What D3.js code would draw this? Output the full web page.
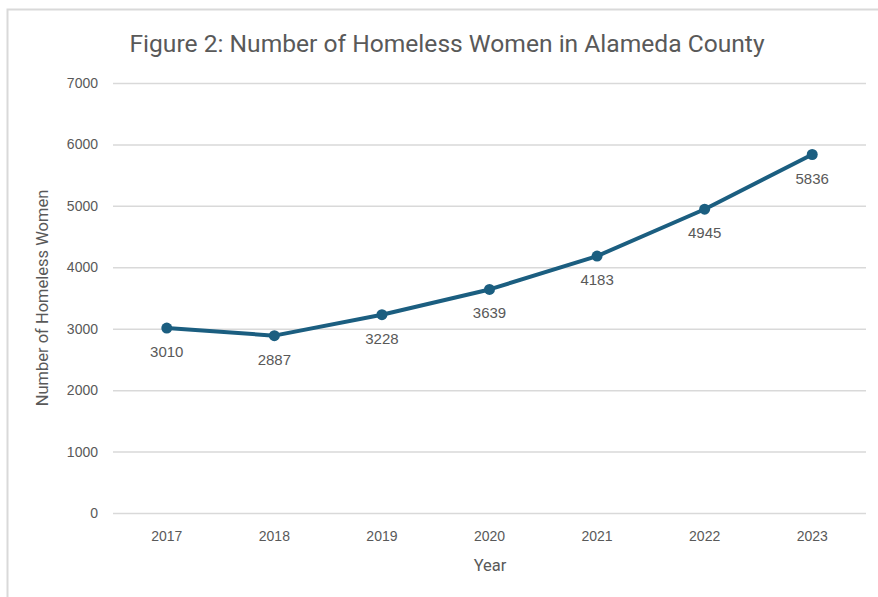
<!DOCTYPE html>
<html>
<head>
<meta charset="utf-8">
<script src="https://cdn.jsdelivr.net/npm/d3@7"></script>
<style>
  body { margin: 0; background: #fff; }
  svg text { font-family: "Liberation Sans", Arial, sans-serif; fill: #595959; }
  .tick text { font-size: 14px; }
  .title { font-size: 24.6px; font-family: Roboto, sans-serif; }
  .axisTitle { font-size: 16.5px; font-family: Roboto, sans-serif; }
  .dataLabel { font-size: 15px; }
</style>
</head>
<body>
<div class="fig2_plot"></div>
<script>
// data
var years = ["2017", "2018", "2019", "2020", "2021", "2022", "2023"];
var women = [3010, 2887, 3228, 3639, 4183, 4945, 5836];
var yTicks = [0, 1000, 2000, 3000, 4000, 5000, 6000, 7000];

function linePlot() {

    var svgWidth = 878;
    var svgHeight = 597;
    var margin = {top: 83, right: 12, bottom: 84, left: 113};
    var width = svgWidth - margin.left - margin.right;
    var height = svgHeight - margin.top - margin.bottom;

    var lineColor = "#1b5e80";

    var data = years.map((y, i) => ({year: y, value: women[i]}));

    var svg = d3.select(".fig2_plot").append("svg")
        .attr("width", svgWidth)
        .attr("height", svgHeight);

    // chart border (left + top visible)
    svg.append("path")
        .attr("d", "M7.5," + svgHeight + " V9.5 H" + svgWidth)
        .attr("fill", "none")
        .attr("stroke", "#d9d9d9")
        .attr("stroke-width", 2);

    var g = svg.append("g")
        .attr("transform", "translate(" + margin.left + "," + margin.top + ")");

    var xScale = d3.scaleBand()
        .domain(years)
        .range([0, width]);

    var yScale = d3.scaleLinear()
        .domain([0, 7000])
        .range([height, 0]);

    // gridlines + y labels
    var yAxis = g.append("g")
        .call(d3.axisLeft(yScale).tickValues(yTicks).tickSize(-width).tickPadding(15).tickFormat(d3.format("d")));
    yAxis.select(".domain").remove();
    yAxis.selectAll(".tick line").attr("stroke", "#d9d9d9").attr("stroke-width", 1.5);

    var xAxis = g.append("g")
        .attr("transform", "translate(0," + height + ")")
        .call(d3.axisBottom(xScale).tickSize(0).tickPadding(18));
    xAxis.select(".domain").remove();

    // line
    var line = d3.line()
        .x(d => xScale(d.year) + xScale.bandwidth() / 2)
        .y(d => yScale(d.value));

    g.append("path")
        .datum(data)
        .attr("d", line)
        .attr("fill", "none")
        .attr("stroke", lineColor)
        .attr("stroke-width", 4)
        .attr("stroke-linejoin", "round");

    g.selectAll(".pt")
        .data(data)
        .enter()
        .append("circle")
        .attr("class", "pt")
        .attr("cx", d => xScale(d.year) + xScale.bandwidth() / 2)
        .attr("cy", d => yScale(d.value))
        .attr("r", 5.5)
        .attr("fill", lineColor);

    g.selectAll(".dataLabel")
        .data(data)
        .enter()
        .append("text")
        .attr("class", "dataLabel")
        .attr("x", d => xScale(d.year) + xScale.bandwidth() / 2)
        .attr("y", d => yScale(d.value) + 29)
        .attr("text-anchor", "middle")
        .text(d => d.value);

    // title
    svg.append("text")
        .attr("class", "title")
        .attr("x", 447)
        .attr("y", 52)
        .attr("text-anchor", "middle")
        .text("Figure 2: Number of Homeless Women in Alameda County");

    // axis titles
    svg.append("text")
        .attr("class", "axisTitle")
        .attr("x", 490)
        .attr("y", 571)
        .attr("text-anchor", "middle")
        .text("Year");

    svg.append("text")
        .attr("class", "axisTitle")
        .attr("transform", "translate(48," + (margin.top + height / 2) + ") rotate(-90)")
        .attr("text-anchor", "middle")
        .text("Number of Homeless Women");
}

linePlot();
</script>
</body>
</html>
